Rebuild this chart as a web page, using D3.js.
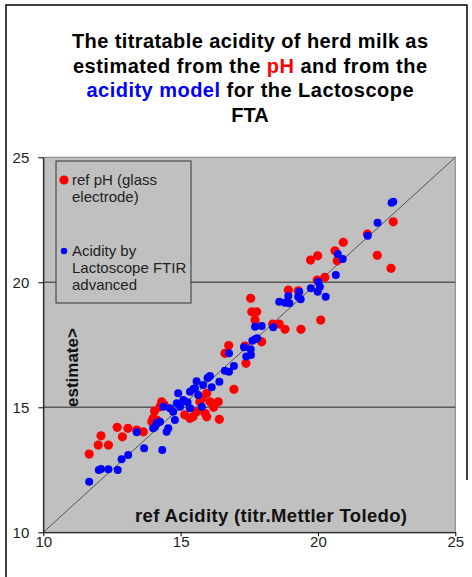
<!DOCTYPE html>
<html>
<head>
<meta charset="utf-8">
<script src="https://cdn.jsdelivr.net/npm/d3@7"></script>
<style>
body { margin: 0; background: #fff; }
svg { display: block; font-family: "Liberation Sans", Arial, sans-serif; }
</style>
</head>
<body>
<script>
// ref acidity (x) vs estimate (y)
var phRef = [
  [11.67,13.13],[12.00,13.49],[12.10,13.86],[12.37,13.49],[12.69,14.20],[12.88,13.82],[13.08,14.16],
  [13.40,14.09],[13.64,14.02],[13.95,14.42],[14.00,14.56],[14.13,14.49],[14.25,15.02],[14.31,15.22],
  [14.40,15.10],[14.05,14.85],[15.15,14.70],[15.34,14.56],[15.45,14.62],[15.58,14.82],[15.70,15.22],
  [15.77,15.36],[15.89,14.76],[15.95,14.62],[15.95,15.56],[16.07,15.22],[16.20,15.00],[16.37,15.22],
  [16.41,14.52],[16.94,15.72],[16.61,17.16],[16.75,17.47],[17.34,17.45],[17.38,16.76],[17.55,19.36],
  [17.59,18.82],[17.77,18.82],[17.71,18.49],[17.95,17.62],[18.35,18.33],[18.59,18.33],[18.80,18.12],
  [18.92,19.69],[19.28,19.66],[19.38,18.12],[19.73,20.89],[19.99,21.06],[19.97,20.09],[20.25,20.20],
  [20.62,21.26],[20.70,20.86],[20.92,21.60],[20.10,18.49],[21.80,21.93],[22.16,21.08],[22.66,20.56],
  [22.74,22.42]
];
var ftirRef = [
  [11.67,12.02],[12.02,12.49],[12.10,12.53],[12.37,12.52],[12.71,12.49],[12.85,12.92],[13.09,13.09],
  [13.40,14.00],[13.67,13.36],[14.33,13.29],[14.07,14.22],[14.00,14.16],[14.13,14.36],[14.25,14.42],
  [14.49,14.02],[14.55,14.16],[14.37,15.02],[14.61,14.96],[14.73,14.82],[14.79,14.49],[14.86,15.16],
  [14.98,15.02],[14.91,15.56],[15.10,15.29],[15.25,15.20],[15.34,15.62],[15.34,14.96],[15.46,15.73],
  [15.52,15.76],[15.58,16.04],[15.64,15.49],[15.77,15.02],[15.82,15.89],[15.98,16.17],[16.04,16.22],
  [16.07,16.25],[16.13,15.80],[16.41,16.02],[16.61,16.46],[16.76,16.42],[16.94,16.65],[16.76,17.16],
  [17.31,17.40],[17.39,17.03],[17.55,17.32],[17.56,17.09],[17.61,17.66],[17.71,17.72],[17.79,17.76],
  [17.71,18.22],[17.95,18.25],[18.37,18.20],[18.59,19.22],[18.80,19.18],[18.96,19.16],[18.92,19.45],
  [19.28,19.42],[19.32,19.62],[19.37,19.32],[19.74,19.76],[19.99,19.62],[20.01,20.02],[20.07,19.82],
  [20.28,19.42],[20.65,20.29],[20.72,21.13],[20.90,20.93],[21.81,21.86],[22.17,22.38],[22.68,23.18],
  [22.74,23.22]
];
var axisTicks = [10, 15, 20, 25];
var gridValues = [15, 20];
var legendLabels = [['ref pH (glass', 'electrode)'], ['Acidity by', 'Lactoscope FTIR', 'advanced']];
var seriesColors = ['#ff0000', '#0000ff'];

var width = 472, height = 577;
var svg = d3.select('body').append('svg')
    .attr('width', width)
    .attr('height', height);

// outer frame
svg.append('path')
    .attr('d', 'M6,577V5H467V480')
    .attr('fill', 'none')
    .attr('stroke', '#000')
    .attr('stroke-width', 1.5);

// title
var titleLines = [
  [['The titratable acidity of herd milk as', '#000']],
  [['estimated from the ', '#000'], ['pH', '#ff0000'], [' and from the', '#000']],
  [['acidity  model', '#0000ff'], [' for the Lactoscope', '#000']],
  [['FTA', '#000']]
];
var titleLen = [356, 354, 327, null];
titleLines.forEach(function(parts, i) {
  var t = svg.append('text')
      .attr('x', 250)
      .attr('y', 48 + i * 24.7)
      .attr('text-anchor', 'middle')
      .attr('font-size', '20px')
      .attr('font-weight', 'bold');
  if (titleLen[i]) t.attr('textLength', titleLen[i]).attr('lengthAdjust', 'spacing');
  parts.forEach(function(p) {
    t.append('tspan').attr('fill', p[1]).text(p[0]);
  });
});

var x = d3.scaleLinear().domain([10, 25]).range([43.3, 455.3]);
var y = d3.scaleLinear().domain([10, 25]).range([532.3, 157.3]);

// plot area
svg.append('rect')
    .attr('x', x(10)).attr('y', y(25))
    .attr('width', x(25) - x(10)).attr('height', y(10) - y(25))
    .attr('fill', '#c0c0c0')
    .attr('stroke', '#808080')
    .attr('stroke-width', 1);

svg.selectAll('.grid')
    .data(gridValues)
    .enter().append('line')
    .attr('x1', x(10)).attr('x2', x(25))
    .attr('y1', function(d) { return y(d); })
    .attr('y2', function(d) { return y(d); })
    .attr('stroke', '#5a5a5a')
    .attr('stroke-width', 1.6);

// 1:1 line
svg.append('line')
    .attr('x1', x(10)).attr('y1', y(10))
    .attr('x2', x(25)).attr('y2', y(25))
    .attr('stroke', '#555')
    .attr('stroke-width', 1);

// axes
var yAxis = svg.append('g')
    .attr('transform', 'translate(' + x(10) + ',0)')
    .call(d3.axisLeft(y).tickValues(axisTicks).tickSize(5).tickPadding(9).tickSizeOuter(0));
var xAxis = svg.append('g')
    .attr('transform', 'translate(0,' + y(10) + ')')
    .call(d3.axisBottom(x).tickValues(axisTicks).tickSize(4).tickPadding(0).tickSizeOuter(0));
[xAxis, yAxis].forEach(function(a) {
  a.select('.domain').attr('stroke', '#000');
  a.selectAll('line').attr('stroke', '#000');
  a.selectAll('text')
      .attr('font-family', '"Liberation Sans", Arial, sans-serif')
      .attr('font-size', '15px')
      .attr('fill', '#222');
});

// points, pH first, FTIR on top
svg.append('g').selectAll('circle')
    .data(phRef)
    .enter().append('circle')
    .attr('cx', function(d) { return x(d[0]); })
    .attr('cy', function(d) { return y(d[1]); })
    .attr('r', 4.6)
    .attr('fill', seriesColors[0]);
svg.append('g').selectAll('circle')
    .data(ftirRef)
    .enter().append('circle')
    .attr('cx', function(d) { return x(d[0]); })
    .attr('cy', function(d) { return y(d[1]); })
    .attr('r', 4)
    .attr('fill', seriesColors[1]);

// legend
svg.append('rect')
    .attr('x', 56).attr('y', 161)
    .attr('width', 135).attr('height', 142)
    .attr('fill', '#c0c0c0')
    .attr('stroke', '#333')
    .attr('stroke-width', 1);
var legendTop = [180, 251];
var legendR = [4.6, 3.2];
legendLabels.forEach(function(lines, i) {
  svg.append('circle')
      .attr('cx', 64).attr('cy', legendTop[i])
      .attr('r', legendR[i])
      .attr('fill', seriesColors[i]);
  var t = svg.append('text')
      .attr('font-size', '15px')
      .attr('fill', '#222');
  lines.forEach(function(s, j) {
    t.append('tspan')
        .attr('x', 72)
        .attr('y', legendTop[i] + 5 + j * 17)
        .text(s);
  });
});

// axis titles
svg.append('text')
    .attr('x', 135).attr('y', 522)
    .attr('font-size', '18.5px')
    .attr('font-weight', 'bold')
    .attr('fill', '#111')
    .attr('textLength', 272)
    .attr('lengthAdjust', 'spacing')
    .text('ref Acidity (titr.Mettler Toledo)');
svg.append('text')
    .attr('transform', 'translate(78,407) rotate(-90)')
    .attr('font-size', '17px')
    .attr('font-weight', 'bold')
    .attr('fill', '#111')
    .text('estimate>');
</script>
</body>
</html>
